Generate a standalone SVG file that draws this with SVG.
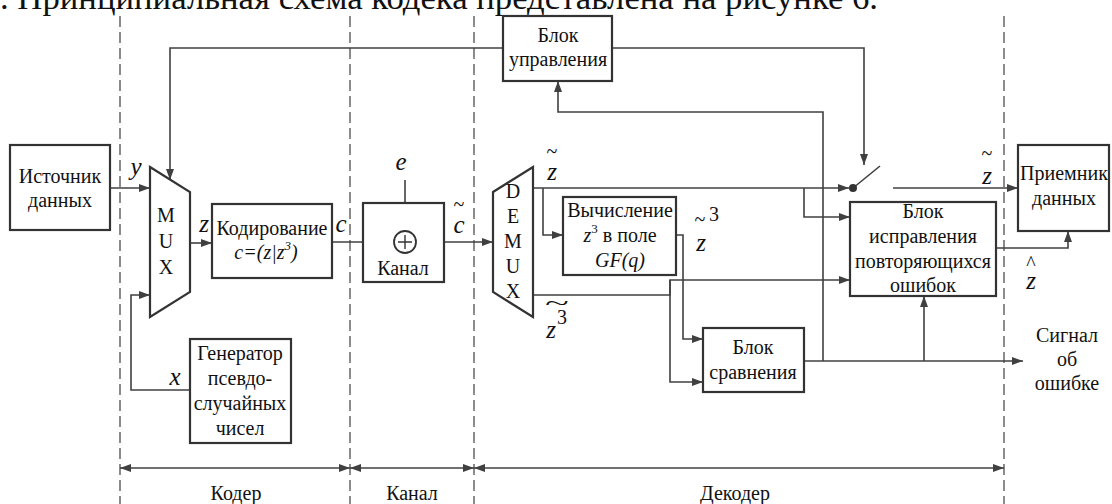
<svg xmlns="http://www.w3.org/2000/svg" width="1112" height="504" viewBox="0 0 1112 504">
<defs>
<marker id="arr" markerUnits="userSpaceOnUse" markerWidth="11" markerHeight="8" refX="11" refY="4" orient="auto-start-reverse"><path d="M0,0 L11,4 L0,8 z" fill="#404040"/></marker>
</defs>
<style>
text{font-family:"Liberation Serif","Times New Roman",Tinos,"DejaVu Serif","Noto Serif",serif}
.t{font-size:20px;fill:#111;text-anchor:middle}
.i{font-style:italic;font-size:25px;fill:#111;text-anchor:middle}
.b{fill:#fff;stroke:#333;stroke-width:2.2}
.c{fill:none;stroke:#404040;stroke-width:1.6}
.a{marker-end:url(#arr)}
.d{fill:none;stroke:#666;stroke-width:1.5;stroke-dasharray:11 5}
</style>
<rect width="1112" height="504" fill="#fff"/>
<text x="0" y="9" font-family="Liberation Serif, Times New Roman, serif" style="font-size:33px;fill:#111" textLength="878" lengthAdjust="spacingAndGlyphs">. Принципиальная схема кодека представлена на рисунке 6.</text>
<g id="dividers">
<path class="d" d="M120,16 V504 M350,16 V504 M474,16 V504 M1004,16 V504"/>
</g>
<g id="connectors">
<path class="c a" d="M110,188 H150"/>
<path class="c a" d="M503,48 H170 V180"/>
<path class="c a" d="M190,390 H131 V295 H150"/>
<path class="c a" d="M190,243 H212"/>
<path class="c a" d="M332,242 H394"/>
<path class="c a" d="M405,180 V231"/>
<path class="c a" d="M416,242 H493"/>
<path class="c a" d="M533,188 H849"/>
<path class="c a" d="M543,188 V235 H563"/>
<path class="c a" d="M676,235 H683 V339 H703"/>
<path class="c a" d="M533,295 H670 V280 H850"/>
<path class="c a" d="M670,280 V382 H703"/>
<path class="c a" d="M804,188 V217 H850"/>
<path class="c a" d="M804,361 H1023"/>
<path class="c a" d="M823,361 V112 H558 V81"/>
<path class="c a" d="M924,361 V296"/>
<path class="c a" d="M612,48 H864 V165"/>
<path class="c" d="M853,188 L880,166"/>
<circle cx="853" cy="188" r="4" fill="#333"/>
<path class="c a" d="M893,188 H1018"/>
<path class="c a" d="M996,248 H1068 V231"/>
<path class="c a" d="M120,468 H350" marker-start="url(#arr)"/>
<path class="c a" d="M350,468 H474" marker-start="url(#arr)"/>
<path class="c a" d="M474,468 H1004" marker-start="url(#arr)"/>
</g>
<g id="source">
<rect class="b" x="10" y="145" width="100" height="85"/>
<text class="t" x="60" y="183">Источник</text>
<text class="t" x="60" y="207">данных</text>
</g>
<g id="mux">
<path class="b" d="M150,167 L190,192 L190,292 L150,317 Z"/>
<text class="t" x="166" y="222">M</text>
<text class="t" x="166" y="248">U</text>
<text class="t" x="166" y="274">X</text>
</g>
<g id="generator">
<rect class="b" x="190" y="339" width="101" height="104"/>
<text class="t" x="240" y="360">Генератор</text>
<text class="t" x="240" y="385">псевдо-</text>
<text class="t" x="240" y="410">случайных</text>
<text class="t" x="240" y="435">чисел</text>
</g>
<g id="encoder">
<rect class="b" x="212" y="204" width="120" height="74"/>
<text class="t" x="272" y="235">Кодирование</text>
<text class="t" x="266" y="259" style="font-style:italic">c=(z|z<tspan font-size="13" dy="-9">3</tspan><tspan dy="9">)</tspan></text>
</g>
<g id="channel">
<rect class="b" x="363" y="203" width="81" height="79"/>
<circle cx="405" cy="242" r="11" fill="#fff" stroke="#333" stroke-width="1.8"/>
<path d="M398,242 H412 M405,235 V249" stroke="#333" stroke-width="1.4"/>
<text class="t" x="403" y="275">Канал</text>
</g>
<g id="demux">
<path class="b" d="M493,192 L533,167 L533,317 L493,292 Z"/>
<text class="t" x="513" y="198">D</text>
<text class="t" x="513" y="223">E</text>
<text class="t" x="513" y="248">M</text>
<text class="t" x="513" y="273">U</text>
<text class="t" x="513" y="298">X</text>
</g>
<g id="cube">
<rect class="b" x="563" y="197" width="113" height="78"/>
<text class="t" x="620" y="217">Вычисление</text>
<text class="t" x="620" y="242"><tspan font-style="italic">z</tspan><tspan font-size="13" dy="-9">3</tspan><tspan dy="9"> в поле</tspan></text>
<text class="t" x="620" y="267" font-style="italic">GF(q)</text>
</g>
<g id="compare">
<rect class="b" x="703" y="328" width="101" height="64"/>
<text class="t" x="753" y="354">Блок</text>
<text class="t" x="753" y="379">сравнения</text>
</g>
<g id="control">
<rect class="b" x="503" y="16" width="109" height="65"/>
<text class="t" x="558" y="42">Блок</text>
<text class="t" x="558" y="66">управления</text>
</g>
<g id="correction">
<rect class="b" x="850" y="202" width="146" height="94"/>
<text class="t" x="923" y="218">Блок</text>
<text class="t" x="923" y="243">исправления</text>
<text class="t" x="923" y="268">повторяющихся</text>
<text class="t" x="923" y="292">ошибок</text>
</g>
<g id="receiver">
<rect class="b" x="1018" y="145" width="91" height="86"/>
<text class="t" x="1064" y="180">Приемник</text>
<text class="t" x="1064" y="205">данных</text>
</g>
<g id="labels">
<text class="i" x="136" y="175">y</text>
<text class="i" x="204" y="232">z</text>
<text class="i" x="341" y="232">c</text>
<text class="i" x="401" y="170">e</text>
<text class="i" x="459" y="233">c</text>
<text class="t" x="459" y="211" font-size="22">~</text>
<text class="i" x="552" y="180">z</text>
<text class="t" x="552" y="158" font-size="22">~</text>
<text class="t" x="557" y="310" font-size="22" transform="translate(557,0) scale(2.2,1) translate(-557,0)">~</text>
<text class="t" x="562" y="324" font-size="18">3</text>
<text class="i" x="551" y="338">z</text>
<text class="t" x="700" y="226" font-size="22">~</text>
<text class="t" x="714" y="221" font-size="18">3</text>
<text class="i" x="701" y="251">z</text>
<text class="t" x="987" y="160" font-size="22">~</text>
<text class="i" x="987" y="184">z</text>
<text class="t" x="1031" y="270" font-size="20">^</text>
<text class="i" x="1031" y="289">z</text>
<text class="i" x="175" y="385">x</text>
<text class="t" x="1067" y="342">Сигнал</text>
<text class="t" x="1067" y="366">об</text>
<text class="t" x="1067" y="390">ошибке</text>
<text class="t" x="236" y="500">Кодер</text>
<text class="t" x="412" y="500">Канал</text>
<text class="t" x="735" y="500">Декодер</text>
</g>
</svg>
